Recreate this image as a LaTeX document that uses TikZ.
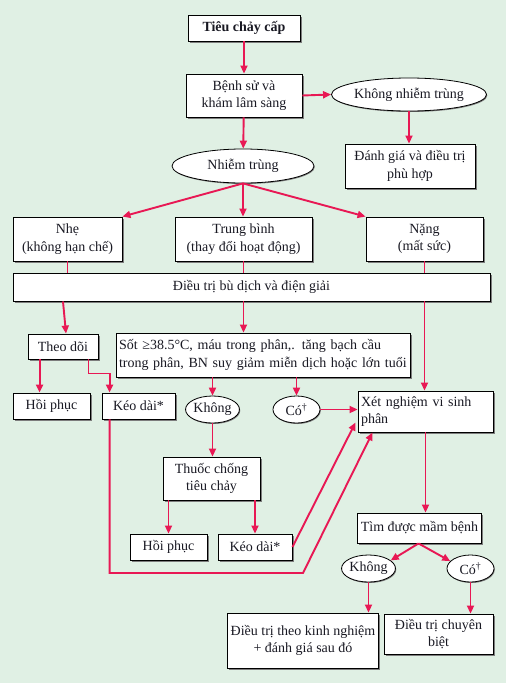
\documentclass[tikz,border=0pt]{standalone}
\usepackage{fontspec}
\setmainfont{Liberation Serif}
\usepackage{tikz}
\usetikzlibrary{arrows.meta,shapes.geometric,shadows}
\definecolor{dxbg}{RGB}{224,240,228}
\definecolor{dxred}{RGB}{232,24,84}
\definecolor{dxshadow}{RGB}{125,125,125}
\definecolor{dxtext}{RGB}{25,25,35}
\tikzset{
  dbox/.style={draw=black, line width=0.9pt, fill=white, align=center, inner sep=3pt,
    text=dxtext, font=\fontsize{14}{17.5}\selectfont,
    drop shadow={shadow xshift=1.6pt, shadow yshift=-1.6pt, fill=dxshadow, opacity=1}},
  dleft/.style={dbox, align=left},
  doval/.style={ellipse, draw=black, line width=0.8pt, fill=white, inner sep=0pt,
    text=dxtext, font=\fontsize{14}{17.5}\selectfont,
    drop shadow={shadow xshift=0.8pt, shadow yshift=-1pt, fill=dxshadow, opacity=1}},
  arr/.style={-{Triangle[length=8pt,width=7pt]}, line width=1.9pt, dxred},
  ln/.style={line width=1.9pt, dxred}
}
\begin{document}
\begin{tikzpicture}[x=1pt,y=-1pt]
  \fill[dxbg] (0,0) rectangle (506,683);
  \useasboundingbox (0,0) rectangle (506,683);

  % top part
  \node[dbox, minimum width=112pt, minimum height=26pt, font=\fontsize{14}{17.5}\selectfont\bfseries] (acute) at (244,28) {Tiêu chảy cấp};
  \node[dbox, minimum width=116pt, minimum height=43pt] (hist) at (244,95.5) {Bệnh sử và\\khám lâm sàng};
  \node[doval, minimum width=142pt, minimum height=33pt] (noinf) at (409,94.5) {Không nhiễm trùng};
  \node[dbox, minimum width=130pt, minimum height=44pt] (assess) at (410,166) {Đánh giá và điều trị\\phù hợp};
  \node[doval, minimum width=142pt, minimum height=34pt] (inf) at (243,166) {Nhiễm trùng};

  % severity
  \node[dbox, minimum width=109pt, minimum height=44pt] (mild) at (67.5,239) {Nhẹ\\(không hạn chế)};
  \node[dbox, minimum width=137pt, minimum height=44pt] (moder) at (243.5,239) {Trung bình\\(thay đổi hoạt động)};
  \node[dbox, minimum width=117pt, minimum height=44pt] (severe) at (424.5,239) {Nặng\\(mất sức)};
  \node[dbox, minimum width=477pt, minimum height=28pt] (rehyd) at (251.5,287) {Điều trị bù dịch và điện giải};

  % middle
  \node[dbox, minimum width=70pt, minimum height=25pt] (watch) at (63,346.5) {Theo dõi};
  \node[dleft, text width=288pt, minimum height=44pt] (crit) at (263,355)
    {Sốt ≥38.5°C, máu trong phân,. tăng bạch cầu\\trong phân, BN suy giảm miễn dịch hoặc lớn tuổi};
  \node[dbox, minimum width=77pt, minimum height=26pt] (recov) at (51.5,406) {Hồi phục};
  \node[dbox, minimum width=73pt, minimum height=26pt] (prolong) at (138.5,406) {Kéo dài*};
  \node[doval, minimum width=49pt, minimum height=27pt] (nocrit) at (212.5,409.5) {Không};
  \node[doval, minimum width=47pt, minimum height=27pt] (yescrit) at (296.5,409.5) {Có\textsuperscript{†}};
  \node[dleft, text width=129pt, minimum height=41pt] (stool) at (425.5,411.5) {Xét nghiệm vi sinh\\phân};
  \node[dbox, minimum width=97pt, minimum height=43pt] (antid) at (211.5,478.5) {Thuốc chống\\tiêu chảy};
  \node[dbox, minimum width=77pt, minimum height=26pt] (recovb) at (168.5,547) {Hồi phục};
  \node[dbox, minimum width=74pt, minimum height=26pt] (prolongb) at (255,547) {Kéo dài*};

  % bottom
  \node[dbox, minimum width=119pt, minimum height=30pt] (found) at (419.5,528) {Tìm được mầm bệnh};
  \node[doval, minimum width=49pt, minimum height=27pt] (nofound) at (368.5,568.5) {Không};
  \node[doval, minimum width=47pt, minimum height=27pt] (yesfound) at (470.5,568.5) {Có\textsuperscript{†}};
  \node[dbox, minimum width=148pt, minimum height=55pt] (empir) at (303,640.5) {Điều trị theo kinh nghiệm\\+ đánh giá sau đó};
  \node[dbox, minimum width=109pt, minimum height=40pt] (specif) at (438.5,634) {Điều trị chuyên\\biệt};
  \coordinate (bend) at (303,573);

  % connectors
  \draw[arr] (acute) -- (hist);
  \draw[arr] (hist.east) -- (noinf.west);
  \draw[arr] (noinf.south) -- (noinf.south |- assess.north);
  \draw[arr] (hist) -- (inf);
  \draw[arr] (inf.south) -- (mild.north east);
  \draw[arr] (inf.south) -- (inf.south |- moder.north);
  \draw[arr] (inf.south) -- (severe.north west);
  \draw[ln] (mild.south) -- (mild.south |- rehyd.north);
  \draw[ln] (moder.south) -- (moder.south |- rehyd.north);
  \draw[ln] (severe.south) -- (severe.south |- rehyd.north);
  \draw[arr] (severe.south |- rehyd.south) -- (severe.south |- stool.north);
  \draw[arr] (watch.north |- rehyd.south) -- ([xshift=3pt]watch.north);
  \draw[arr] (moder.south |- rehyd.south) -- (moder.south |- crit.north);
  \draw[arr] ([xshift=12pt]watch.south west) -- ([xshift=12pt]watch.south west |- recov.north);
  \draw[arr] ([xshift=-10pt]watch.south east) -- ++(0,14) -| ([xshift=8pt]prolong.north west);
  \draw[arr] (crit.south -| nocrit.north) -- (nocrit.north);
  \draw[arr] (crit.south -| yescrit.north) -- (yescrit.north);
  \draw[arr] (yescrit.east) -- (yescrit.east -| stool.west);
  \draw[arr] (nocrit.south) -- (nocrit.south |- antid.north);
  \draw[arr] (antid.south -| recovb.north) -- (recovb.north);
  \draw[arr] (antid.south -| prolongb.north) -- (prolongb.north);
  \draw[arr] (prolongb.east) -- ([xshift=-2pt,yshift=10pt]stool.south west);
  \draw[arr] ([xshift=8pt]prolong.south west) |- (bend) -- ([xshift=15pt]stool.south west);
  \draw[arr] (stool.south) -- (stool.south |- found.north);
  \draw[arr] ([xshift=-1pt]found.south) -- (nofound.20);
  \draw[arr] ([xshift=-1pt]found.south) -- (yesfound.160);
  \draw[arr] (nofound.south) -- (nofound.south |- empir.north);
  \draw[arr] (yesfound.south) -- (yesfound.south |- specif.north);
\end{tikzpicture}
\end{document}
